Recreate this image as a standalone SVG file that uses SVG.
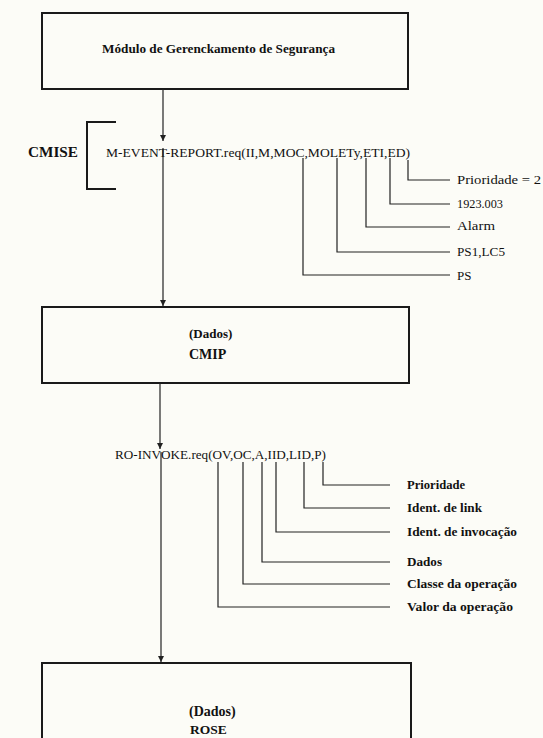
<svg xmlns="http://www.w3.org/2000/svg" width="543" height="738" viewBox="0 0 543 738">
<style>
.box{fill:none;stroke:#1a1a1a;stroke-width:2}
.ln{fill:none;stroke:#222;stroke-width:1.2}
.t{font-family:"Liberation Serif","Times New Roman",serif;fill:#111;font-size:13px}
.b{font-weight:bold}
</style>
<defs>
<marker id="ah" viewBox="0 0 8 10" refX="8" refY="5" markerWidth="6" markerHeight="8" orient="auto" markerUnits="userSpaceOnUse">
<path d="M0,1 L8,5 L0,9 Z" fill="#222"/>
</marker>
</defs>
<rect width="543" height="738" fill="#fcfcf7"/>
<g id="node-modulo">
<rect class="box" x="42" y="13" width="366" height="76"/>
<text class="t b" x="102" y="53" textLength="233" lengthAdjust="spacingAndGlyphs">Módulo de Gerenckamento de Segurança</text>
</g>
<g id="node-cmip">
<rect class="box" x="42" y="307" width="367" height="76"/>
<text class="t b" x="189" y="338">(Dados)</text>
<text class="t b" x="189" y="359" style="font-size:14px">CMIP</text>
</g>
<g id="node-rose">
<rect class="box" x="42" y="663" width="369" height="90"/>
<text class="t b" x="189" y="716" style="font-size:14px">(Dados)</text>
<text class="t b" x="190" y="734" style="font-size:13.5px">ROSE</text>
</g>
<g id="cmise">
<text class="t b" x="28" y="157" style="font-size:14px" textLength="50" lengthAdjust="spacingAndGlyphs">CMISE</text>
<path class="box" d="M116,122 H87 V189 H116"/>
<text class="t" x="106" y="157" textLength="304" lengthAdjust="spacingAndGlyphs">M-EVENT-REPORT.req(II,M,MOC,MOLETy,ETI,ED)</text>
</g>
<g id="labels">
<text class="t" x="457" y="184" textLength="84" lengthAdjust="spacingAndGlyphs">Prioridade = 2</text>
<text class="t" x="457" y="208" textLength="46" lengthAdjust="spacingAndGlyphs">1923.003</text>
<text class="t" x="457" y="230" textLength="38" lengthAdjust="spacingAndGlyphs">Alarm</text>
<text class="t" x="457" y="256" textLength="48" lengthAdjust="spacingAndGlyphs">PS1,LC5</text>
<text class="t" x="457" y="280">PS</text>
<text class="t" x="115" y="459" textLength="211" lengthAdjust="spacingAndGlyphs">RO-INVOKE.req(OV,OC,A,IID,LID,P)</text>
<text class="t b" x="407" y="489" textLength="58" lengthAdjust="spacingAndGlyphs">Prioridade</text>
<text class="t b" x="407" y="512" textLength="75" lengthAdjust="spacingAndGlyphs">Ident. de link</text>
<text class="t b" x="407" y="536" textLength="110" lengthAdjust="spacingAndGlyphs">Ident. de invocação</text>
<text class="t b" x="407" y="566" textLength="35" lengthAdjust="spacingAndGlyphs">Dados</text>
<text class="t b" x="407" y="588" textLength="110" lengthAdjust="spacingAndGlyphs">Classe da operação</text>
<text class="t b" x="407" y="611" textLength="106" lengthAdjust="spacingAndGlyphs">Valor da operação</text>
</g>
<g id="connectors">
<line class="ln" x1="163" y1="89" x2="163" y2="141" marker-end="url(#ah)"/>
<line class="ln" x1="163" y1="148" x2="163" y2="306" marker-end="url(#ah)"/>
<line class="ln" x1="160" y1="383" x2="160" y2="449" marker-end="url(#ah)"/>
<line class="ln" x1="161" y1="452" x2="161" y2="662" marker-end="url(#ah)"/>
<path class="ln" d="M408,160 V180 H450"/>
<path class="ln" d="M390,158 V204 H450"/>
<path class="ln" d="M366,158 V227 H450"/>
<path class="ln" d="M337,158 V252 H450"/>
<path class="ln" d="M303,158 V275 H450"/>
<path class="ln" d="M323,462 V485 H390"/>
<path class="ln" d="M304,462 V508 H390"/>
<path class="ln" d="M276,462 V532 H390"/>
<path class="ln" d="M262,462 V562 H390"/>
<path class="ln" d="M243,462 V584 H390"/>
<path class="ln" d="M218,462 V607 H390"/>
</g>
</svg>
